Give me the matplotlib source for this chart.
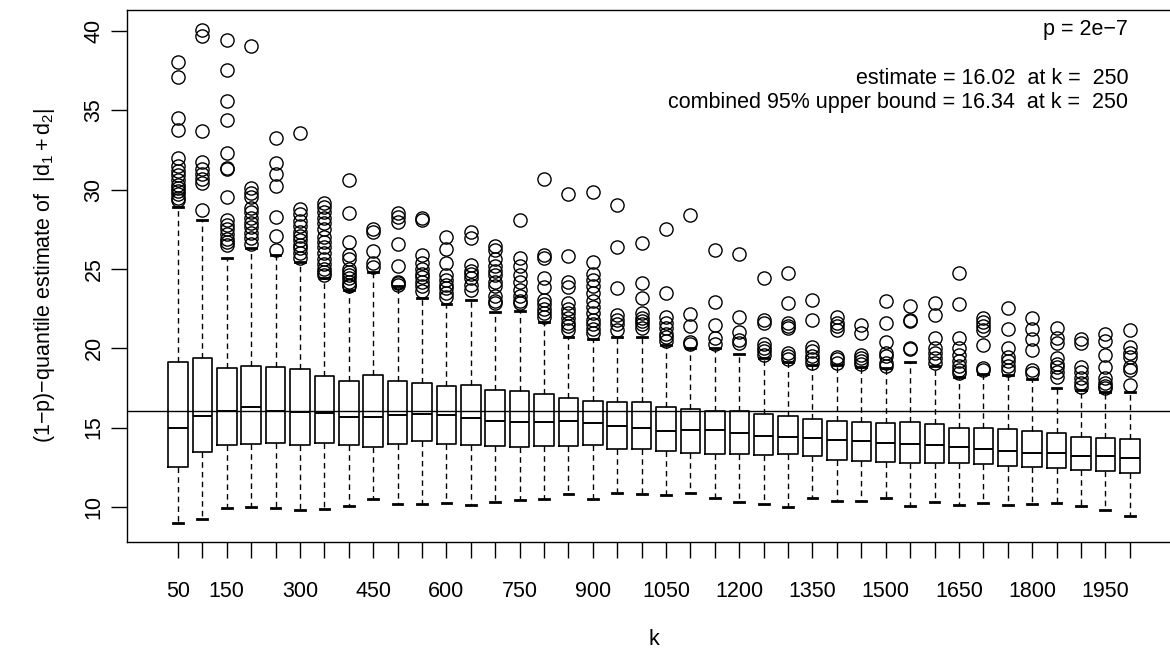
import numpy as np
import matplotlib
matplotlib.use('Agg')
import matplotlib.pyplot as plt

plt.rcParams['font.family'] = ['Liberation Sans', 'DejaVu Sans']
plt.rcParams['mathtext.fontset'] = 'custom'
plt.rcParams['mathtext.rm'] = 'Liberation Sans'
plt.rcParams['mathtext.it'] = 'Liberation Sans:italic'

# box summaries, one entry per k
k = list(range(50, 2001, 50))
whislo = [9.01, 9.26, 9.96, 10.0, 9.96, 9.8, 9.87, 10.08, 10.5, 10.19,
          10.17, 10.23, 10.15, 10.34, 10.44, 10.48, 10.8, 10.48, 10.86, 10.8,
          10.74, 10.86, 10.55, 10.34, 10.19, 10.02, 10.55, 10.38, 10.4, 10.55,
          10.06, 10.29, 10.13, 10.27, 10.13, 10.17, 10.23, 10.06, 9.81, 9.43]
q1 = [12.52, 13.47, 13.9, 13.97, 14.05, 13.9, 14.0, 13.9, 13.76, 13.95,
      14.16, 13.95, 13.89, 13.86, 13.8, 13.86, 13.84, 13.9, 13.65, 13.65,
      13.53, 13.42, 13.36, 13.32, 13.28, 13.32, 13.21, 12.96, 12.9, 12.85,
      12.75, 12.8, 12.75, 12.69, 12.58, 12.54, 12.46, 12.33, 12.27, 12.16]
med = [15.0, 15.73, 16.07, 16.28, 16.07, 15.97, 15.92, 15.65, 15.65, 15.8,
       15.84, 15.8, 15.59, 15.42, 15.34, 15.34, 15.4, 15.27, 15.12, 15.0,
       14.81, 14.85, 14.85, 14.68, 14.49, 14.39, 14.37, 14.22, 14.16, 14.01,
       13.95, 13.9, 13.8, 13.67, 13.53, 13.42, 13.38, 13.23, 13.21, 13.1]
q3 = [19.16, 19.37, 18.78, 18.9, 18.8, 18.7, 18.27, 17.94, 18.3, 17.94,
      17.8, 17.62, 17.69, 17.37, 17.31, 17.14, 16.85, 16.7, 16.6, 16.6,
      16.28, 16.16, 16.07, 16.07, 15.86, 15.73, 15.55, 15.44, 15.34, 15.31,
      15.38, 15.23, 14.96, 15.0, 14.94, 14.79, 14.64, 14.43, 14.33, 14.27]
whishi = [28.9, 28.08, 25.67, 26.3, 25.9, 25.46, 24.4, 23.7, 24.8, 23.9,
          23.17, 22.8, 23.04, 22.27, 22.37, 21.68, 20.7, 20.6, 20.7, 20.69,
          20.2, 20.0, 20.0, 19.65, 19.37, 19.16, 18.95, 18.95, 18.84, 18.73,
          19.16, 18.9, 18.21, 18.38, 18.32, 18.05, 17.48, 17.37, 17.26, 17.26]
outliers = [
    [38.02, 37.12, 34.53, 33.75, 31.97, 31.5, 31.2, 30.9, 30.6, 30.3, 30.1, 29.9, 29.7, 29.5, 29.35],
    [40.06, 39.7, 33.69, 31.76, 31.3, 31.0, 30.7, 30.4, 28.71],
    [39.43, 37.54, 35.6, 34.39, 32.33, 31.38, 31.3, 29.55, 28.1, 27.8, 27.5, 27.2, 26.9, 26.7, 26.5],
    [39.05, 30.08, 29.77, 29.55, 28.82, 28.6, 28.2, 27.9, 27.66, 27.24, 26.93, 26.6],
    [33.27, 31.66, 30.98, 30.25, 28.25, 27.07, 26.2],
    [33.55, 28.75, 28.45, 28.0, 27.7, 27.3, 27.1, 26.8, 26.5, 26.3, 26.0, 25.7],
    [29.17, 28.9, 28.6, 28.2, 27.9, 27.5, 27.0, 26.7, 26.4, 26.0, 25.6, 25.3, 25.0, 24.8, 24.6],
    [30.6, 28.5, 26.7, 25.9, 25.6, 25.0, 24.8, 24.6, 24.4, 24.2, 24.0, 23.9],
    [27.5, 27.3, 26.1, 25.35, 25.15],
    [28.5, 28.3, 27.98, 26.55, 25.2, 24.2, 24.1, 24.0],
    [28.2, 28.1, 25.88, 25.4, 25.0, 24.7, 24.5, 24.2, 23.9, 23.6],
    [27.03, 26.24, 25.36, 24.6, 24.3, 24.0, 23.8, 23.5, 23.25],
    [27.3, 26.93, 25.25, 24.9, 24.7, 24.4, 24.0, 23.7],
    [26.45, 26.2, 25.6, 25.2, 24.9, 24.6, 24.2, 23.9, 23.3, 23.0, 22.83],
    [28.08, 25.67, 25.2, 24.6, 24.2, 23.7, 23.3, 23.0, 22.83],
    [30.65, 25.88, 25.67, 24.4, 23.88, 23.04, 22.8, 22.5, 22.2, 22.0],
    [29.7, 25.8, 24.2, 23.88, 22.85, 22.5, 22.2, 21.9, 21.6, 21.4, 21.15],
    [29.87, 25.46, 24.7, 24.3, 23.9, 23.5, 23.0, 22.6, 22.2, 21.8, 21.5, 21.2, 20.96],
    [29.0, 26.36, 23.78, 22.1, 21.8, 21.5, 21.15],
    [26.65, 24.13, 23.19, 22.2, 21.9, 21.7, 21.5, 21.28],
    [27.5, 23.5, 22.0, 21.6, 21.3, 20.9, 20.7, 20.45],
    [28.4, 22.16, 21.42, 20.4, 20.3],
    [26.2, 22.94, 21.47, 20.65, 20.3],
    [25.92, 21.99, 21.05, 20.52, 20.35],
    [24.4, 21.78, 21.58, 20.3, 20.0, 19.8, 19.6],
    [24.76, 22.83, 21.6, 21.4, 21.3, 19.68, 19.5, 19.3],
    [23.04, 21.78, 20.1, 19.8, 19.5, 19.3, 19.1],
    [22.0, 21.6, 21.4, 21.15, 19.47, 19.3, 19.1],
    [21.47, 20.94, 19.58, 19.4, 19.2, 19.0],
    [23.0, 21.6, 20.38, 19.72, 19.5, 19.09, 18.9],
    [22.67, 21.78, 21.7, 20.0, 19.94],
    [22.83, 22.1, 20.63, 20.0, 19.7, 19.4, 19.05],
    [24.73, 22.77, 20.63, 20.0, 19.6, 19.2, 18.9, 18.6, 18.42],
    [21.9, 21.68, 21.4, 21.15, 20.2, 18.74, 18.63],
    [22.52, 21.2, 20.04, 19.47, 19.2, 18.9, 18.6],
    [21.93, 21.2, 20.57, 19.9, 18.63, 18.42],
    [21.3, 20.63, 20.35, 19.41, 19.0, 18.84, 18.5, 18.21],
    [20.6, 20.35, 18.84, 18.5, 18.1, 17.8, 17.58],
    [20.9, 20.48, 19.58, 18.84, 18.1, 17.8, 17.6, 17.48],
    [21.15, 20.1, 19.72, 19.43, 18.84, 18.63, 17.69],
]
shown_labels = [50, 150, 300, 450, 600, 750, 900, 1050, 1200, 1350, 1500, 1650, 1800, 1950]
estimate = 16.02
notes = ['p = 2e\u22127',
         'estimate = 16.02  at k =  250',
         'combined 95% upper bound = 16.34  at k =  250']

stats = []
for i in range(len(k)):
    stats.append(dict(med=med[i], q1=q1[i], q3=q3[i], whislo=whislo[i],
                      whishi=whishi[i], fliers=outliers[i]))

fig = plt.figure(figsize=(11.7, 6.64), dpi=100)
W, H = 1170.0, 664.0
ax = fig.add_axes([126.7 / W, 122 / H, (1181 - 126.7) / W, (542 - 10) / H])

pos = np.arange(1, len(k) + 1)
ax.bxp(stats, positions=pos, widths=0.8, capwidths=0.4,
       boxprops=dict(color='black', lw=1.2),
       medianprops=dict(color='black', lw=1.4),
       whiskerprops=dict(color='black', lw=1.0, linestyle=(0, (4, 3))),
       capprops=dict(color='black', lw=2.0),
       flierprops=dict(marker='o', markerfacecolor='none', markeredgecolor='black',
                       markersize=9.5, markeredgewidth=1.0, linestyle='none'))

ax.axhline(estimate, color='black', lw=1.0)

ax.set_xlim(-1.1, 42.1)
ax.set_ylim(7.79, 41.32)

ax.set_xticks(pos)
ax.set_xticklabels([str(v) if v in shown_labels else '' for v in k])
ax.set_yticks([10, 15, 20, 25, 30, 35, 40])
for lab in ax.get_yticklabels():
    lab.set_rotation(90)
    lab.set_va('center')

fs = 15.5
ax.tick_params(axis='both', direction='out', length=11.5, width=1.0, labelsize=fs)
ax.tick_params(axis='x', pad=16.5)
ax.tick_params(axis='y', pad=4.5)
for s in ax.spines.values():
    s.set_linewidth(1.0)

ax.set_xlabel('k', fontsize=fs)
ax.xaxis.set_label_coords(0.5, -0.163)
ax.set_ylabel('(1\u2212p)\u2212quantile estimate of  $|\\mathrm{d}_1 + \\mathrm{d}_2|$', fontsize=fs)
ax.yaxis.set_label_coords((57 - 126.7) / 1054.3, 0.5)

ax.text(39.94, 40.06, notes[0], ha='right', va='center', fontsize=fs)
ax.text(39.94, 37.03, notes[1], ha='right', va='center', fontsize=fs)
ax.text(39.94, 35.46, notes[2], ha='right', va='center', fontsize=fs)

fig.savefig('out.png', dpi=100)
